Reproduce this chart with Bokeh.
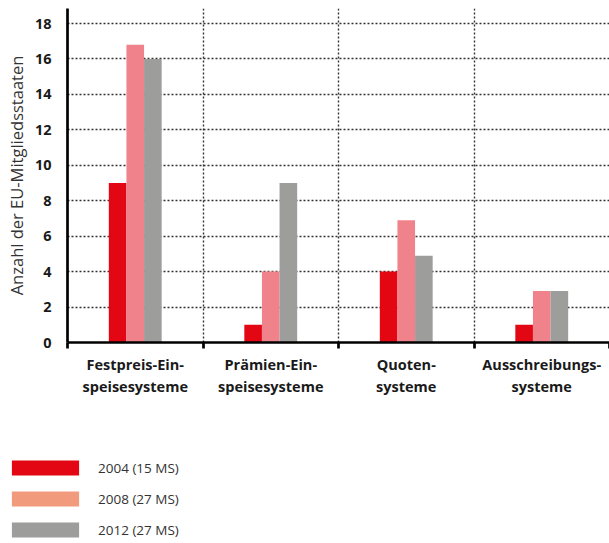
from bokeh.plotting import figure
from bokeh.models import Range1d, FixedTicker, Legend, LegendItem, ColumnDataSource
from bokeh.layouts import column
from bokeh.embed import file_html
from bokeh.resources import INLINE

categories = ["Festpreis-Ein-\nspeisesysteme", "Prämien-Ein-\nspeisesysteme", "Quoten-\nsysteme", "Ausschreibungs-\nsysteme"]
series_names = ["2004 (15 MS)", "2008 (27 MS)", "2012 (27 MS)"]
v2004 = [9, 1, 4, 1]
v2008 = [16.8, 4, 6.9, 2.9]
v2012 = [16, 9, 4.9, 2.9]
y_ticks = [0, 2, 4, 6, 8, 10, 12, 14, 16, 18]

bar_colors = ["#e30613", "#f0828c", "#9d9d9c"]
legend_colors = ["#e30613", "#f29b7c", "#9d9d9c"]
FONT = "Open Sans"

p = figure(width=609, height=400, output_backend="svg", toolbar_location=None,
           x_range=Range1d(0, 4), y_range=Range1d(0, 18.85))
p.min_border_left = 67
p.min_border_right = 0
p.min_border_top = 8
p.min_border_bottom = 58
p.outline_line_color = None
p.frame_align = False

bw = 0.13
offsets = [-bw, 0, bw]
for vals, off, col in zip([v2004, v2008, v2012], offsets, bar_colors):
    src = ColumnDataSource(dict(x=[i + 0.5 + off for i in range(len(categories))], top=vals))
    p.vbar(x="x", top="top", width=bw, bottom=0, source=src, fill_color=col, line_color=None)

# x axis
xa = p.xaxis[0]
xa.ticker = FixedTicker(ticks=[0.5, 1.5, 2.5, 3.5], minor_ticks=[0, 1, 2, 3, 4])
xa.major_label_overrides = {0.5: categories[0], 1.5: categories[1], 2.5: categories[2], 3.5: categories[3]}
xa.major_tick_line_color = None
xa.minor_tick_line_color = "black"
xa.minor_tick_line_width = 2.7
xa.minor_tick_out = 6
xa.minor_tick_in = 0
xa.axis_line_width = 2.7
xa.axis_line_color = "black"
xa.major_label_text_font = FONT
xa.major_label_text_font_style = "bold"
xa.major_label_text_font_size = "14.5px"
xa.major_label_text_color = "#1a1a1a"
xa.major_label_standoff = 6

ya = p.yaxis[0]
ya.ticker = FixedTicker(ticks=y_ticks)
ya.minor_tick_line_color = None
ya.major_tick_line_color = None
ya.axis_line_width = 2.7
ya.axis_line_color = "black"
ya.major_label_text_font = FONT
ya.major_label_text_font_style = "bold"
ya.major_label_text_font_size = "14.5px"
ya.major_label_text_color = "#1a1a1a"
ya.major_label_standoff = 10
ya.axis_label = "Anzahl der EU-Mitgliedsstaaten"
ya.axis_label_text_font = FONT
ya.axis_label_text_font_style = "normal"
ya.axis_label_text_font_size = "16.5px"
ya.axis_label_text_color = "#333333"
ya.axis_label_standoff = 4

p.xgrid.ticker = FixedTicker(ticks=[1, 2, 3])
p.xgrid.grid_line_color = "#333333"
p.xgrid.grid_line_dash = "2 2"
p.xgrid.grid_line_width = 1.4
p.ygrid.ticker = FixedTicker(ticks=y_ticks[1:])
p.ygrid.grid_line_color = "#333333"
p.ygrid.grid_line_dash = "2 2"
p.ygrid.grid_line_width = 1.4

# legend figure
lg = figure(width=609, height=143, output_backend="svg", toolbar_location=None,
            x_range=Range1d(0, 1), y_range=Range1d(0, 1),
            x_axis_location=None, y_axis_location=None)
lg.min_border_left = 0
lg.min_border_right = 0
lg.min_border_top = 0
lg.min_border_bottom = 0
lg.outline_line_color = None
lg.grid.visible = False
lg.frame_align = False

items = []
for name, col in zip(series_names, legend_colors):
    r = lg.vbar(x=[10], top=[10], bottom=[9], width=0.1, fill_color=col, line_color=None)
    items.append(LegendItem(label=name, renderers=[r]))

legend = Legend(items=items, location=(3, 4), orientation="vertical",
                glyph_width=84, glyph_height=19, label_height=19, spacing=12,
                label_standoff=11, padding=0, margin=0,
                border_line_color=None, background_fill_alpha=0,
                label_text_font=FONT, label_text_font_size="13.5px",
                label_text_color="#333333")
lg.add_layout(legend, "center")

layout = column(p, lg, spacing=0)
open("out.html", "w").write(file_html(layout, INLINE))
